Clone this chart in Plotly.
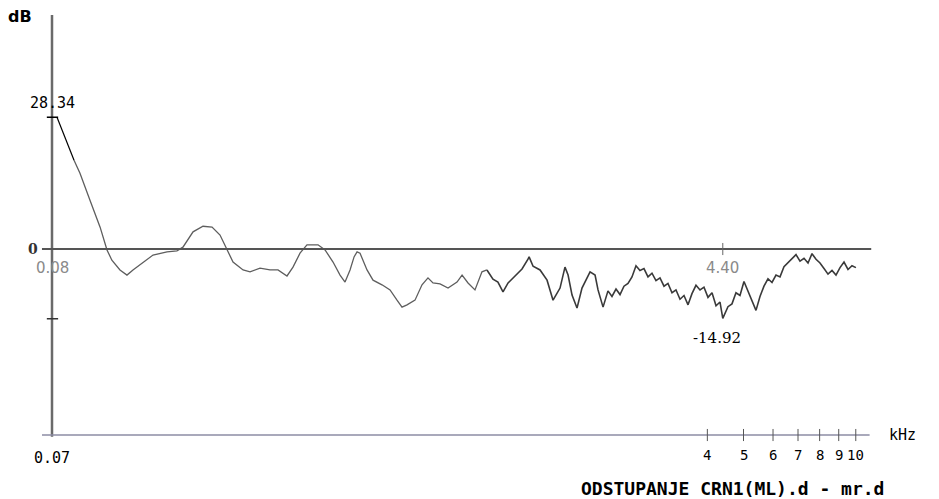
import math
import plotly.graph_objects as go

# Deviation curve: frequency (kHz) vs level difference (dB)
freq_khz = [
    0.0722, 0.0802, 0.0832, 0.0885, 0.0942, 0.0983, 0.1013, 0.1065, 0.1112, 0.1154,
    0.1228, 0.1306, 0.1424, 0.1514, 0.1571, 0.1672, 0.1778, 0.188, 0.1975, 0.2062,
    0.214, 0.2277, 0.2377, 0.2528, 0.2689, 0.2825, 0.2986, 0.3099, 0.3236, 0.3378,
    0.3617, 0.3777, 0.3968, 0.4143, 0.4273, 0.4407, 0.4518, 0.4602, 0.4687, 0.4894,
    0.5079, 0.5368, 0.5641, 0.5889, 0.6074, 0.6264, 0.6581, 0.6872, 0.713, 0.7354,
    0.768, 0.807, 0.853, 0.88, 0.913, 0.953, 0.995, 1.026, 1.065, 1.098,
    1.133, 1.169, 1.22, 1.274, 1.322, 1.331, 1.364, 1.424, 1.487, 1.543,
    1.611, 1.661, 1.693, 1.735, 1.789, 1.845, 1.939, 2.0, 2.037, 2.101,
    2.166, 2.22, 2.276, 2.333, 2.391, 2.451, 2.512, 2.575, 2.639, 2.705,
    2.773, 2.842, 2.913, 2.986, 3.061, 3.137, 3.216, 3.296, 3.379, 3.463,
    3.55, 3.638, 3.729, 3.823, 3.918, 4.016, 4.117, 4.22, 4.325, 4.40,
    4.543, 4.657, 4.773, 4.893, 5.015, 5.14, 5.269, 5.401, 5.536, 5.674,
    5.816, 5.962, 6.111, 6.264, 6.42, 6.581, 6.745, 6.914, 7.087, 7.264,
    7.446, 7.632, 7.823, 8.018, 8.219, 8.424, 8.635, 8.851, 9.072, 9.299,
    9.531, 9.769, 10.01,
]
level_db = [
    28.34, 19.1, 16.3, 10.5, 4.7, -0.2, -2.4, -4.5, -5.6, -4.5,
    -2.8, -1.3, -0.6, -0.4, 0.4, 3.7, 4.9, 4.7, 3.0, -0.2,
    -2.8, -4.5, -4.9, -4.1, -4.5, -4.5, -5.8, -3.9, -0.9, 0.9,
    0.9, -0.2, -2.8, -5.6, -7.1, -4.5, -1.7, -0.6, -0.9, -4.5,
    -6.7, -7.7, -8.8, -11.0, -12.5, -12.0, -11.0, -7.7, -6.2, -7.3,
    -7.5, -8.4, -7.1, -5.6, -7.3, -8.8, -4.9, -4.5, -6.5, -7.1,
    -9.2, -7.3, -5.8, -4.3, -2.2, -1.7, -3.7, -4.5, -6.7, -11.0,
    -8.4, -3.9, -5.6, -9.9, -12.7, -8.4, -4.9, -5.6, -8.8, -12.5,
    -9.0, -10.2, -8.6, -9.8, -8.0, -7.4, -6.0, -3.6, -4.6, -4.2,
    -6.0, -5.2, -6.8, -6.2, -8.0, -7.4, -9.4, -8.8, -10.8, -10.0,
    -12.0, -9.6, -7.8, -8.8, -8.2, -10.4, -9.4, -12.2, -11.4, -14.92,
    -12.4, -11.8, -9.4, -10.0, -7.0, -9.0, -11.4, -13.2, -10.2, -8.0,
    -6.4, -7.2, -5.6, -6.0, -3.8, -3.0, -2.0, -1.2, -2.6, -2.0,
    -3.0, -1.0, -2.2, -3.0, -4.2, -5.4, -4.6, -5.6, -4.0, -2.8,
    -4.4, -3.6, -4.0,
]

# Marked extremes
max_db, max_freq_label = 28.34, "0.08"
min_db, min_freq = -14.92, 4.40

# Axis marks
x_ticks = [4, 5, 6, 7, 8, 9, 10]
x_tick_text = ["4", "5", "6", "7", "8", "9", "10"]
x_start = 0.07
y_bottom, y_top = -40.4, 50.3
y_minor_tick = -15

# Plot frame (log x) - full window used as data area
X_RANGE = [-1.2943, 1.2231]
Y_RANGE = [-53.76, 53.55]
X_LEFT, X_RIGHT = 0.0658, 11.0
SPLIT = 57  # from ~1 kHz on the trace is drawn denser/darker


def lx(v):
    # annotations on a log axis are placed in log10 units
    return math.log10(v)


fig = go.Figure()

# main curve: lighter low-frequency part, darker high-frequency part
fig.add_trace(go.Scatter(
    x=freq_khz[1:SPLIT + 1], y=level_db[1:SPLIT + 1], mode="lines",
    line=dict(color="#5e5e5e", width=1.3), hoverinfo="skip"))
fig.add_trace(go.Scatter(
    x=freq_khz[SPLIT:], y=level_db[SPLIT:], mode="lines",
    line=dict(color="#3a3a3a", width=1.6), hoverinfo="skip"))
# leader from the maximum marker to the curve
fig.add_trace(go.Scatter(
    x=freq_khz[:2], y=level_db[:2], mode="lines",
    line=dict(color="#000000", width=1.2), hoverinfo="skip"))

shapes = []
# vertical dB axis
shapes.append(dict(type="line", xref="x", yref="y", x0=x_start, x1=x_start,
                   y0=y_top, y1=y_bottom, line=dict(color="#6a6a6a", width=2.5)))
# frequency baseline
shapes.append(dict(type="line", xref="x", yref="y", x0=X_LEFT, x1=X_RIGHT * 0.99,
                   y0=-40, y1=-40, line=dict(color="#8c8ca4", width=1.5)))
# zero dB reference
shapes.append(dict(type="line", xref="x", yref="y", x0=X_LEFT, x1=X_RIGHT,
                   y0=0, y1=0, line=dict(color="#555555", width=2.2)))
# frequency ticks crossing baseline
for t in x_ticks:
    shapes.append(dict(type="line", xref="x", yref="y", x0=t, x1=t,
                       y0=-38.7, y1=-41.3, line=dict(color="#555555", width=1)))
# min-frequency tick on zero line
shapes.append(dict(type="line", xref="x", yref="y", x0=min_freq, x1=min_freq,
                   y0=1.3, y1=-1.3, line=dict(color="#666666", width=1)))
# dB axis ticks
for v, c in [(max_db, "#000000"), (y_minor_tick, "#333333")]:
    shapes.append(dict(type="line", xref="x", yref="y", x0=0.0678, x1=0.0727,
                       y0=v, y1=v, line=dict(color=c, width=1.5)))

fig.update_layout(shapes=shapes)

mono = "DejaVu Sans Mono"
ann = []
ann.append(dict(x=20 / 939, y=1 - 16 / 499, xref="paper", yref="paper", text="<b>dB</b>",
                xanchor="center", yanchor="middle", showarrow=False,
                font=dict(family="DejaVu Sans", size=16, color="#000")))
ann.append(dict(x=lx(x_start), y=max_db, xref="x", yref="y", text=f"{max_db:.2f}", yshift=14,
                showarrow=False, font=dict(family=mono, size=15, color="#000")))
ann.append(dict(x=lx(x_start), y=0, xref="x", yref="y", text="<b>0</b>", xshift=-19,
                showarrow=False, font=dict(family="DejaVu Serif", size=14, color="#333")))
ann.append(dict(x=lx(x_start), y=0, xref="x", yref="y", text=max_freq_label, yshift=-19,
                showarrow=False, font=dict(family="DejaVu Sans", size=15, color="#8a8a8a")))
ann.append(dict(x=lx(min_freq), y=0, xref="x", yref="y", text=f"{min_freq:.2f}", yshift=-19,
                showarrow=False, font=dict(family="DejaVu Sans", size=15, color="#8a8a8a")))
ann.append(dict(x=lx(min_freq), y=min_db, xref="x", yref="y", text=f"{min_db:.2f}",
                yshift=-20, xshift=-6, showarrow=False,
                font=dict(family="DejaVu Serif", size=15, color="#000")))
for t, lab in zip(x_ticks, x_tick_text):
    ann.append(dict(x=lx(t), y=-40, xref="x", yref="y", text=lab, yshift=-20,
                    showarrow=False, font=dict(family=mono, size=14, color="#000")))
ann.append(dict(x=lx(x_start), y=-40, xref="x", yref="y", text="0.07", yshift=-23,
                showarrow=False, font=dict(family=mono, size=15, color="#000")))
ann.append(dict(x=887 / 939, y=-40, xref="paper", yref="y", text="kHz",
                xanchor="left", showarrow=False,
                font=dict(family=mono, size=15, color="#000")))
ann.append(dict(x=732 / 939, y=1 - 488 / 499, xref="paper", yref="paper",
                text="<b>ODSTUPANJE CRN1(ML).d - mr.d</b>",
                xanchor="center", yanchor="middle", showarrow=False,
                font=dict(family=mono, size=18, color="#000")))
fig.update_layout(annotations=ann)

fig.update_layout(
    width=939, height=499,
    margin=dict(l=0, r=0, t=0, b=0),
    paper_bgcolor="white", plot_bgcolor="white",
    showlegend=False,
    xaxis=dict(type="log", range=X_RANGE, visible=False, fixedrange=True),
    yaxis=dict(range=Y_RANGE, visible=False, fixedrange=True),
)

fig.write_html("out.html")
